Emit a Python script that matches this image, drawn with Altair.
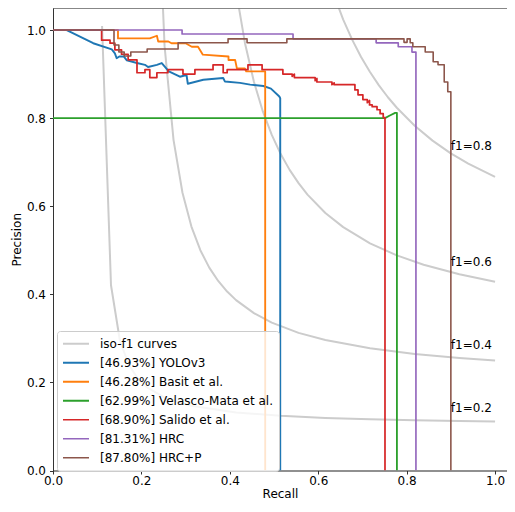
import altair as alt
import pandas as pd

# ---------------- data ----------------
series_names = [
    "iso-f1 curves",
    "[46.93%] YOLOv3",
    "[46.28%] Basit et al.",
    "[62.99%] Velasco-Mata et al.",
    "[68.90%] Salido et al.",
    "[81.31%] HRC",
    "[87.80%] HRC+P",
]
series_colors = ["#cccccc", "#1f77b4", "#ff7f0e", "#2ca02c", "#d62728", "#9467bd", "#8c564b"]
series_widths = [2.0, 1.6, 1.6, 1.6, 1.6, 1.6, 3.4]

# iso-f1 reference curves
iso02_x = [0.111, 0.1312, 0.1514, 0.1716, 0.1918, 0.212, 0.2524, 0.3131, 0.4141, 0.5151, 0.6161, 0.7171, 0.8182, 0.9192, 1.0]
iso02_y = [1.009, 0.4205, 0.2946, 0.2397, 0.2089, 0.1893, 0.1656, 0.1469, 0.1318, 0.1241, 0.1194, 0.1162, 0.1139, 0.1122, 0.1111]
iso04_x = [0.2322, 0.2524, 0.2727, 0.2929, 0.3131, 0.3333, 0.3535, 0.3737, 0.3939, 0.4141, 0.4545, 0.4949, 0.5555, 0.6161, 0.7171, 0.8182, 0.9192, 1.0]
iso04_y = [1.442, 0.9634, 0.7502, 0.6306, 0.5537, 0.5001, 0.4606, 0.4303, 0.4063, 0.3868, 0.3572, 0.3356, 0.3125, 0.2961, 0.2774, 0.2647, 0.2556, 0.25]
iso06_x = [0.3939, 0.4141, 0.4343, 0.4545, 0.4747, 0.4949, 0.5151, 0.5353, 0.5555, 0.5757, 0.6161, 0.6565, 0.7171, 0.7778, 0.8384, 0.9192, 1.0]
iso06_y = [1.2585, 1.0888, 0.9701, 0.8825, 0.8152, 0.7618, 0.7184, 0.6825, 0.6523, 0.6264, 0.5847, 0.5525, 0.5158, 0.4884, 0.4672, 0.4454, 0.4286]
iso08_x = [0.5959, 0.6161, 0.6363, 0.6565, 0.6767, 0.6969, 0.7171, 0.7373, 0.7576, 0.7778, 0.8182, 0.8586, 0.899, 0.9394, 1.0]
iso08_y = [1.2167, 1.1404, 1.0771, 1.0238, 0.9782, 0.9389, 0.9046, 0.8744, 0.8474, 0.8235, 0.7826, 0.7489, 0.7206, 0.6966, 0.6667]

iso_label_text = ["f1=0.2", "f1=0.4", "f1=0.6", "f1=0.8"]
iso_label_x = [0.9, 0.9, 0.9, 0.9]
iso_label_y = [0.132, 0.276, 0.465, 0.728]

yolo_recall = [0.0, 0.031, 0.091, 0.133, 0.140, 0.144, 0.150, 0.160, 0.167, 0.190, 0.208, 0.215, 0.235, 0.246,
               0.262, 0.287, 0.302, 0.305, 0.340, 0.385, 0.389, 0.423, 0.446, 0.476, 0.493, 0.512, 0.514, 0.514]
yolo_precision = [1.0, 1.0, 0.970, 0.956, 0.947, 0.936, 0.940, 0.940, 0.931, 0.925, 0.921, 0.916, 0.921, 0.925,
                  0.906, 0.894, 0.898, 0.878, 0.887, 0.891, 0.883, 0.880, 0.876, 0.873, 0.867, 0.849, 0.845, 0.0]

basit_recall = [0.0, 0.147, 0.147, 0.219, 0.235, 0.238, 0.261, 0.268, 0.300, 0.314, 0.328, 0.339, 0.397, 0.397,
                0.412, 0.416, 0.434, 0.437, 0.480, 0.480]
basit_precision = [1.0, 1.0, 0.981, 0.981, 0.987, 0.974, 0.974, 0.970, 0.970, 0.962, 0.962, 0.944, 0.940, 0.932,
                   0.932, 0.913, 0.913, 0.906, 0.906, 0.0]

velasco_recall = [0.0, 0.751, 0.762, 0.774, 0.778, 0.778]
velasco_precision = [0.8, 0.8, 0.806, 0.812, 0.812, 0.0]

salido_recall = [0.0, 0.110, 0.110, 0.129, 0.129, 0.140, 0.140, 0.155, 0.155, 0.170, 0.170, 0.190, 0.190,
                 0.208, 0.208, 0.219, 0.219, 0.235, 0.235, 0.260, 0.260, 0.294, 0.294, 0.321, 0.321, 0.362,
                 0.362, 0.385, 0.385, 0.394, 0.394, 0.441, 0.441, 0.473, 0.473, 0.520, 0.520, 0.541, 0.541,
                 0.546, 0.546, 0.593, 0.593, 0.597, 0.597, 0.631, 0.631, 0.636, 0.636, 0.683, 0.683, 0.690,
                 0.690, 0.701, 0.701, 0.711, 0.711, 0.716, 0.716, 0.722, 0.722, 0.733, 0.733, 0.740, 0.740,
                 0.747, 0.747, 0.751, 0.751]
salido_precision = [1.0, 1.0, 0.977, 0.977, 0.970, 0.970, 0.955, 0.955, 0.945, 0.945, 0.932, 0.932, 0.903,
                    0.903, 0.910, 0.910, 0.892, 0.892, 0.903, 0.903, 0.910, 0.910, 0.900, 0.900, 0.910, 0.910,
                    0.921, 0.921, 0.903, 0.903, 0.910, 0.910, 0.921, 0.921, 0.910, 0.910, 0.900, 0.900, 0.895,
                    0.900, 0.892, 0.892, 0.885, 0.890, 0.882, 0.882, 0.876, 0.880, 0.876, 0.876, 0.864, 0.864,
                    0.853, 0.853, 0.842, 0.842, 0.835, 0.840, 0.830, 0.830, 0.826, 0.826, 0.819, 0.819, 0.810,
                    0.810, 0.801, 0.801, 0.0]

hrc_recall = [0.0, 0.292, 0.292, 0.543, 0.543, 0.731, 0.731, 0.781, 0.781, 0.812, 0.812, 0.821, 0.821]
hrc_precision = [1.0, 1.0, 0.991, 0.991, 0.980, 0.980, 0.971, 0.971, 0.962, 0.962, 0.950, 0.950, 0.0]

hrcp_recall = [0.0, 0.138, 0.138, 0.149, 0.149, 0.161, 0.161, 0.176, 0.176, 0.213, 0.213, 0.283, 0.283,
               0.396, 0.396, 0.439, 0.439, 0.529, 0.529, 0.794, 0.794, 0.801, 0.801, 0.808, 0.808, 0.814,
               0.814, 0.842, 0.842, 0.860, 0.860, 0.871, 0.871, 0.885, 0.885, 0.893, 0.893, 0.900, 0.900]
hrcp_precision = [1.0, 1.0, 0.966, 0.966, 0.950, 0.950, 0.941, 0.941, 0.950, 0.950, 0.957, 0.957, 0.971,
                  0.971, 0.980, 0.980, 0.971, 0.971, 0.980, 0.980, 0.972, 0.972, 0.980, 0.980, 0.971, 0.971,
                  0.962, 0.962, 0.950, 0.950, 0.928, 0.928, 0.921, 0.921, 0.882, 0.882, 0.860, 0.860, 0.0]

# ---------------- table ----------------
rows = []


def add(series, curve, xs, ys):
    assert len(xs) == len(ys), curve
    for i, (a, b) in enumerate(zip(xs, ys)):
        rows.append({"series": series, "curve": curve, "idx": i, "recall": a, "precision": b})


add(series_names[0], "iso02", iso02_x, iso02_y)
add(series_names[0], "iso04", iso04_x, iso04_y)
add(series_names[0], "iso06", iso06_x, iso06_y)
add(series_names[0], "iso08", iso08_x, iso08_y)
add(series_names[1], "yolo", yolo_recall, yolo_precision)
add(series_names[2], "basit", basit_recall, basit_precision)
add(series_names[3], "velasco", velasco_recall, velasco_precision)
add(series_names[4], "salido", salido_recall, salido_precision)
add(series_names[5], "hrc", hrc_recall, hrc_precision)
add(series_names[6], "hrcp", hrcp_recall, hrcp_precision)
df = pd.DataFrame(rows)

labels_df = pd.DataFrame({"text": iso_label_text, "recall": iso_label_x, "precision": iso_label_y})
top_df = pd.DataFrame({"precision": [1.05]})

# ---------------- chart ----------------
FONT = "DejaVu Sans"
AX = "#333333"

x_enc = alt.X(
    "recall:Q",
    scale=alt.Scale(domain=[0, 1.027], nice=False, zero=False),
    axis=alt.Axis(values=[0, 0.2, 0.4, 0.6, 0.8, 1.0], format=".1f", title="Recall", grid=False,
                  tickSize=3.5, labelPadding=1, domainColor=AX, tickColor=AX, labelColor="black",
                  titleColor="black", labelFontSize=12, titleFontSize=12, titleFontWeight="normal",
                  titlePadding=2, labelFont=FONT, titleFont=FONT, labelFlush=False),
)
y_enc = alt.Y(
    "precision:Q",
    scale=alt.Scale(domain=[0, 1.05], nice=False, zero=False),
    axis=alt.Axis(values=[0, 0.2, 0.4, 0.6, 0.8, 1.0], format=".1f", title="Precision", grid=False,
                  tickSize=3.5, labelPadding=4, domainColor=AX, tickColor=AX, labelColor="black",
                  titleColor="black", labelFontSize=12, titleFontSize=12, titleFontWeight="normal",
                  titlePadding=3, labelFont=FONT, titleFont=FONT, labelFlush=False),
)

legend = alt.Legend(
    title=None, orient="none", legendX=4, legendY=323,
    symbolType="stroke", symbolSize=676, labelFontSize=12, labelFont=FONT, labelColor="black",
    labelOffset=10, labelLimit=400, padding=5, rowPadding=3, clipHeight=15.5,
    fillColor="rgba(255,255,255,0.8)", strokeColor="#cccccc", cornerRadius=3,
)

lines = alt.Chart(df).mark_line(clip=True, strokeJoin="round").encode(
    x=x_enc,
    y=y_enc,
    color=alt.Color("series:O", scale=alt.Scale(domain=series_names, range=series_colors),
                    sort=series_names, legend=legend),
    strokeWidth=alt.StrokeWidth("series:O", scale=alt.Scale(domain=series_names, range=series_widths),
                                sort=series_names, legend=legend),
    detail="curve:N",
    order="idx:Q",
)

texts = alt.Chart(labels_df).mark_text(align="left", baseline="alphabetic", fontSize=12, font=FONT,
                                       color="black").encode(
    x=alt.X("recall:Q"), y=alt.Y("precision:Q"), text="text:N")

top_spine = alt.Chart(top_df).mark_rule(color=AX, strokeWidth=1).encode(y=alt.Y("precision:Q"))

chart = alt.layer(lines, texts, top_spine).properties(
    width=454, height=462.5, autosize="none",
    padding={"left": 45, "top": 0, "right": 0, "bottom": 33.5},
    background="white",
).configure_view(stroke=None).configure(font=FONT)

chart.save("out.html", embed_options={"renderer": "svg", "actions": False})
